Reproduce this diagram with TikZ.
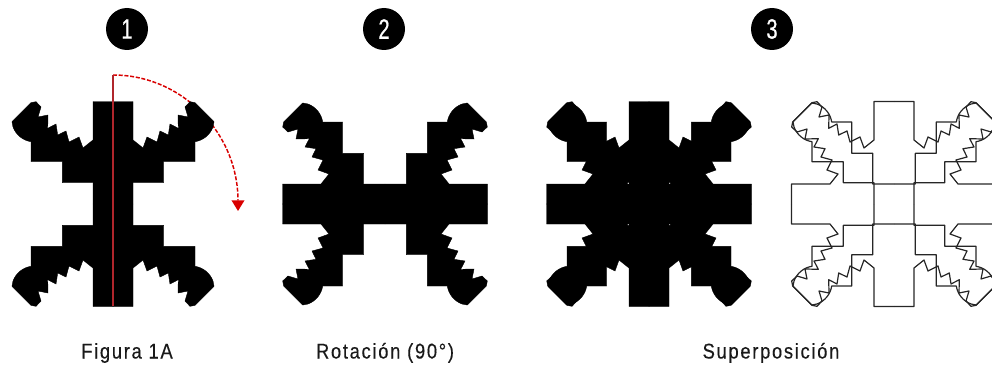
\documentclass[tikz,border=0pt]{standalone}
\usepackage{fontspec}
\setmainfont{Liberation Sans}
\newfontfamily\lblfont[FakeStretch=0.86,LetterSpace=8,FakeBold=0.3]{Liberation Sans}
\newfontfamily\digfont[FakeStretch=0.72,FakeBold=0.6]{Liberation Sans}
\usetikzlibrary{arrows.meta}
\definecolor{axisred}{HTML}{B0262C}
\newcommand{\armpath}{(0,102.5) -- (20,102.5) -- (20,64) -- (30,56) -- (34,67) -- (44,62) -- (47,73) -- (55.3,69) -- (57,80) -- (65.3,75.7) -- (65,89) -- (75,87) -- (72,97) -- (77,102.3) -- (82,101.3) -- (101,82.3) -- (100,77) .. controls (97,69) and (90,63.5) .. (82,62.3) -- (82,42.3) -- (50.7,42.3) -- (50.7,21.3) -- (20,21.3) -- (20,0)}
\newcommand{\solidfig}[3]{%
  \foreach \sx/\sy in {1/1,-1/1,1/-1,-1/-1}{
    \fill[black,draw=black,line width=0.3pt,shift={(#1,#2)},rotate=#3,xscale=\sx,yscale=\sy] \armpath -- (0,0) -- cycle;
  }}
\newcommand{\linefig}[3]{%
  \foreach \sx/\sy in {1/1,-1/1,1/-1,-1/-1}{
    \draw[outl,shift={(#1,#2)},rotate=#3,xscale=\sx,yscale=\sy] \armpath;
  }}
\tikzset{
  x=0.75pt,y=0.75pt,
  outl/.style={draw=black!85,line width=0.9pt,line join=round},
  badge/.style={circle,fill=black,text=white,minimum size=31.5pt,inner sep=0pt,font=\fontsize{21}{21}\selectfont\digfont},
  caption/.style={text=black!90,inner sep=0pt,anchor=base,font=\fontsize{16}{18}\selectfont\lblfont},
  axisline/.style={draw=axisred,line width=1.1pt},
  turnarc/.style={draw=red!85!black,line width=1.1pt,dash pattern=on 3pt off 1.3pt,-{Triangle[width=9.5pt,length=8pt]}}
}
\begin{document}
\begin{tikzpicture}
\useasboundingbox (0,0) rectangle (992,365);
\clip (0,0) rectangle (992,365);
\coordinate (axisTop) at (113,290);
\coordinate (axisBot) at (113,59);
\coordinate (arcEnd) at (238,154);
% turn arc under the figure
\draw[turnarc] (axisTop) .. controls (182,290) and (238,232) .. (arcEnd);
% figures
\solidfig{113}{161}{0}
\solidfig{385}{161}{90}
\solidfig{649}{161}{0}
\solidfig{649}{161}{90}
\linefig{894}{161}{0}
\linefig{894}{161}{90}
\draw[axisline] (axisBot) -- (axisTop);
% badges
\node[badge] (n1) at (127,336) {1};
\node[badge] (n2) at (384,336) {2};
\node[badge] (n3) at (772,336) {3};
% captions
\node[caption] (c1) at (127,6.5) {Figura 1A};
\node[caption] (c2) at (385,6.5) {Rotación (90°)};
\node[caption] (c3) at (771,6.5) {Superposición};
\end{tikzpicture}
\end{document}
